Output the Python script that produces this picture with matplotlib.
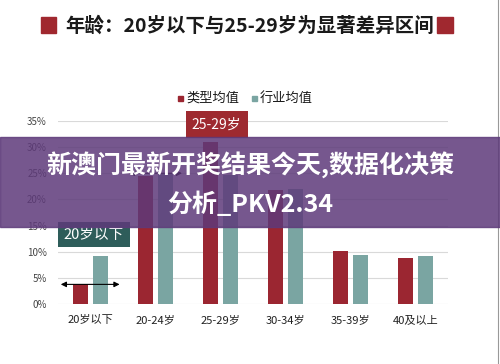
import matplotlib.pyplot as plt
import numpy as np
from matplotlib.patches import Rectangle

plt.rcParams['font.family'] = ['Noto Sans CJK SC', 'DejaVu Sans']

categories = ["20岁以下", "20-24岁", "25-29岁", "30-34岁", "35-39岁", "40及以上"]
type_mean = [3.8, 24.4, 30.9, 21.8, 10.2, 8.8]
industry_mean = [9.3, 25.1, 24.6, 22.0, 9.5, 9.3]
yticks = [0, 5, 10, 15, 20, 25, 30, 35]

red = "#9b2631"
teal = "#7aa5a2"

fig = plt.figure(figsize=(5, 3.64), dpi=100)
ax = fig.add_axes([0.116, 0.164, 0.78, 0.504])

x = np.arange(len(categories))
ax.bar(x - 0.15, type_mean, width=0.23, color=red, zorder=3)
ax.bar(x + 0.15, industry_mean, width=0.23, color=teal, zorder=3)

ax.set_xlim(-0.5, 5.5)
ax.set_ylim(0, 35)
ax.set_yticks(yticks)
ax.set_yticklabels([f"{t}%" for t in yticks], fontsize=7, color="#444444")
ax.set_xticks(x)
ax.set_xticklabels(categories, fontsize=8, color="#222222")
ax.tick_params(length=0, pad=8)
ax.grid(axis="y", color="#d9d9d9", lw=0.8, zorder=0)
for s in ax.spines.values():
    s.set_visible(False)

# annotations
ax.annotate("", xy=(-0.5, 3.8), xytext=(0.49, 3.8),
            arrowprops=dict(arrowstyle="<|-|>", color="black", lw=0.8, mutation_scale=8), zorder=4)
ax.annotate("", xy=(0.55, 25), xytext=(1.45, 25),
            arrowprops=dict(arrowstyle="<|-|>", color="black", lw=0.8, mutation_scale=8), zorder=4)
ax.text(0.054, 13.3, "20岁以下", fontsize=10.5, color="white", ha="center", va="center",
        bbox=dict(boxstyle="square,pad=0.4", fc="#2e5d5a", ec="none"), zorder=5)
ax.text(1.94, 34.3, "25-29岁", fontsize=10, color="white", ha="center", va="center",
        bbox=dict(boxstyle="square,pad=0.45", fc="#9e2a30", ec="none"), zorder=5, clip_on=False)

# title
fig.text(0.5, 0.93, "年龄：20岁以下与25-29岁为显著差异区间", fontsize=14, fontweight="bold",
         ha="center", va="center", color="#1a1a1a")
fig.patches.append(Rectangle((0.081, 0.91), 0.031, 0.042, transform=fig.transFigure, color="#a0282f"))
fig.patches.append(Rectangle((0.874, 0.91), 0.031, 0.042, transform=fig.transFigure, color="#a0282f"))

# legend
fig.patches.append(Rectangle((0.356, 0.722), 0.01, 0.014, transform=fig.transFigure, color=red))
fig.text(0.372, 0.73, "类型均值", fontsize=9.5, fontweight="medium", ha="left", va="center", color="#1a1a1a")
fig.patches.append(Rectangle((0.504, 0.722), 0.01, 0.014, transform=fig.transFigure, color=teal))
fig.text(0.52, 0.73, "行业均值", fontsize=9.5, fontweight="medium", ha="left", va="center", color="#1a1a1a")

# overlay band
fig.patches.append(Rectangle((0, 0.377), 1, 0.247, transform=fig.transFigure,
                             color="#5e3a7a", alpha=0.85, zorder=10))
fig.text(0.5, 0.548, "新澳门最新开奖结果今天,数据化决策", fontsize=18, fontweight="heavy",
         color="white", ha="center", va="center", zorder=11)
fig.text(0.5, 0.44, "分析_PKV2.34", fontsize=18, fontweight="heavy",
         color="white", ha="center", va="center", zorder=11)

# right border
fig.lines.append(plt.Line2D([0.996, 0.996], [0, 1], transform=fig.transFigure, color="#999999", lw=0.8))

fig.savefig("out.png", dpi=100, facecolor="white")
